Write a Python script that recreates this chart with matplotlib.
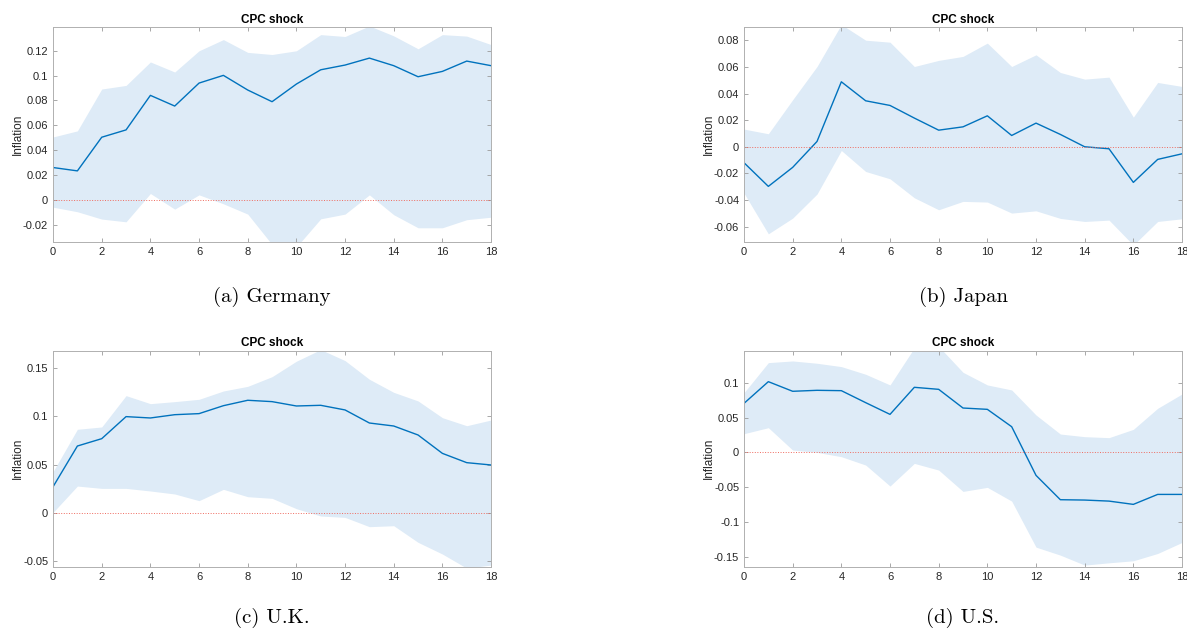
import numpy as np
import matplotlib
matplotlib.use('Agg')
import matplotlib.pyplot as plt
from matplotlib.ticker import FuncFormatter, MultipleLocator

horizon = list(range(19))

de_mean = [0.026, 0.0233, 0.0504, 0.0563, 0.0841, 0.0755, 0.094, 0.1002, 0.0884, 0.079,
           0.0932, 0.1047, 0.1085, 0.1141, 0.108, 0.0991, 0.1034, 0.1117, 0.108]
de_upper = [0.0506, 0.0555, 0.0892, 0.0921, 0.111, 0.1029, 0.12, 0.129, 0.1187, 0.117,
            0.12, 0.133, 0.1315, 0.14, 0.132, 0.1216, 0.133, 0.1318, 0.125]
de_lower = [-0.0059, -0.0096, -0.0155, -0.0177, 0.0051, -0.0075, 0.004, -0.0032, -0.0115, -0.036,
            -0.038, -0.0153, -0.0115, 0.004, -0.012, -0.0225, -0.0225, -0.016, -0.014]

jp_mean = [-0.012, -0.0298, -0.0155, 0.004, 0.0489, 0.0346, 0.0311, 0.0216, 0.0125, 0.015,
           0.0233, 0.0085, 0.0178, 0.0093, 0.0, -0.0015, -0.0268, -0.0095, -0.0053]
jp_upper = [0.0133, 0.0098, 0.0354, 0.0604, 0.092, 0.0802, 0.0787, 0.0604, 0.065, 0.068,
            0.078, 0.0604, 0.0692, 0.0559, 0.0509, 0.0524, 0.0223, 0.0484, 0.0454]
jp_lower = [-0.0349, -0.0655, -0.0537, -0.0356, -0.0028, -0.0186, -0.0241, -0.0384, -0.0474, -0.0411,
            -0.0416, -0.0499, -0.0482, -0.0539, -0.0562, -0.0552, -0.074, -0.0562, -0.0542]

uk_mean = [0.0272, 0.0693, 0.0769, 0.0997, 0.0983, 0.1017, 0.1028, 0.111, 0.1166, 0.1152,
           0.1107, 0.1114, 0.1066, 0.0931, 0.09, 0.0807, 0.0617, 0.0521, 0.0497]
uk_upper = [0.0428, 0.0866, 0.089, 0.1214, 0.1131, 0.1152, 0.1176, 0.1262, 0.131, 0.141,
            0.157, 0.169, 0.1576, 0.1383, 0.1248, 0.1159, 0.0986, 0.0903, 0.0962]
uk_lower = [0.0007, 0.0279, 0.0255, 0.0255, 0.0228, 0.0197, 0.0128, 0.0245, 0.0169, 0.0152,
            0.0045, -0.0031, -0.0045, -0.0141, -0.0131, -0.0303, -0.0424, -0.057, -0.0538]

us_mean = [0.0703, 0.1014, 0.0876, 0.089, 0.0885, 0.0713, 0.0545, 0.0933, 0.0904, 0.0636,
           0.0617, 0.0368, -0.033, -0.0679, -0.0684, -0.0699, -0.0746, -0.0603, -0.0603]
us_upper = [0.0856, 0.1287, 0.1311, 0.1278, 0.123, 0.112, 0.0967, 0.15, 0.152, 0.1148,
            0.0967, 0.0895, 0.0536, 0.0263, 0.0225, 0.0211, 0.033, 0.0632, 0.0837]
us_lower = [0.0268, 0.0354, 0.0033, 0.0, -0.0062, -0.0182, -0.0483, -0.0158, -0.0254, -0.056,
            -0.0502, -0.0699, -0.1359, -0.1474, -0.1617, -0.1584, -0.1555, -0.145, -0.1292]

captions = ['(a) Germany', '(b) Japan', '(c) U.K.', '(d) U.S.']
ylims = [(-0.034, 0.139), (-0.0717, 0.09), (-0.0555, 0.168), (-0.164, 0.146)]
ysteps = [0.02, 0.02, 0.05, 0.05]

series = [(de_mean, de_upper, de_lower), (jp_mean, jp_upper, jp_lower),
          (uk_mean, uk_upper, uk_lower), (us_mean, us_upper, us_lower)]

# axes boxes in figure fractions (left, bottom, width, height)
boxes = [(0.0447, 0.617, 0.369, 0.340), (0.6268, 0.617, 0.369, 0.340),
         (0.0447, 0.1033, 0.369, 0.342), (0.6268, 0.1033, 0.369, 0.342)]
cap_y = [1 - 297 / 632, 1 - 297 / 632, 1 - 618 / 632, 1 - 618 / 632]

plt.rcParams['font.family'] = ['Liberation Sans', 'DejaVu Sans']

fig = plt.figure(figsize=(11.87, 6.32), dpi=100)

for i, (m, up, lo) in enumerate(series):
    ax = fig.add_axes(boxes[i])
    ax.fill_between(horizon, lo, up, color='#deebf7', linewidth=0)
    ax.plot(horizon, m, color='#0072bd', linewidth=1.0)
    ax.axhline(0, color='#ef6a5f', linestyle=':', linewidth=0.7)
    ax.set_xlim(0, 18)
    ax.set_ylim(*ylims[i])
    ax.xaxis.set_major_locator(MultipleLocator(2))
    ax.yaxis.set_major_locator(MultipleLocator(ysteps[i]))
    ax.yaxis.set_major_formatter(FuncFormatter(lambda v, p: '%g' % round(v, 4)))
    ax.tick_params(direction='in', top=True, right=True, labelsize=8,
                   color='#9a9a9a', labelcolor='#262626', length=3, width=0.6)
    for s in ax.spines.values():
        s.set_color('#b0b0b0')
        s.set_linewidth(0.7)
    ax.set_title('CPC shock', fontsize=8.5, fontweight='bold', pad=3)
    ax.set_ylabel('Inflation', fontsize=8.5, color='#262626')
    ax.yaxis.set_label_coords(-0.066, 0.5)
    fig.text(boxes[i][0] + boxes[i][2] / 2, cap_y[i], captions[i],
             ha='center', va='center', fontsize=15, family='cmr10')

fig.savefig('out.png', dpi=100)
